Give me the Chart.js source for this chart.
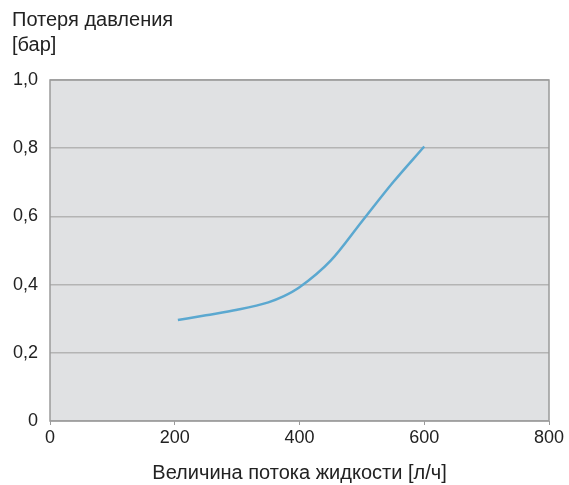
<!DOCTYPE html>
<html>
<head>
<meta charset="utf-8">
<script src="https://cdn.jsdelivr.net/npm/chart.js@4/dist/chart.umd.min.js"></script>
<style>
  html, body { margin: 0; padding: 0; background: #fff; }
  #wrap { width: 569px; height: 485px; }
</style>
</head>
<body>
<div id="wrap"><canvas id="myChart"></canvas></div>
<script>
"use strict"

// flow rate [l/h] and pressure loss [bar]
const flow = [205, 250, 300, 350, 375, 400, 450, 500, 550, 600];
const pressure = [0.296, 0.31, 0.326, 0.348, 0.366, 0.392, 0.47, 0.585, 0.70, 0.805];

const xTicks = [0, 200, 400, 600, 800];
const yTicks = [0, 0.2, 0.4, 0.6, 0.8, 1.0];

const yTitle = ["Потеря давления", "[бар]"];
const xTitle = "Величина потока жидкости [л/ч]";

Chart.defaults.font.family = "'Liberation Sans', Arial, sans-serif";
Chart.defaults.color = "#222";

// grey plot background and frame
const plotFrame = {
    id: "plotFrame",
    beforeDraw(chart) {
        const { ctx, chartArea: a } = chart;
        ctx.save();
        ctx.fillStyle = "#e0e1e3";
        ctx.fillRect(a.left, a.top, a.right - a.left, a.bottom - a.top);
        ctx.restore();
    },
    afterDatasetsDraw(chart) {
        const { ctx, chartArea: a } = chart;
        ctx.save();
        ctx.strokeStyle = "#9a9a9a";
        ctx.lineWidth = 1.5;
        ctx.strokeRect(a.left, a.top, a.right - a.left, a.bottom - a.top);
        ctx.restore();
    }
};

const ctx = document.getElementById("myChart").getContext("2d");

new Chart(ctx, {
    type: "line",
    data: {
        datasets: [{
            data: flow.map((f, i) => ({ x: f, y: pressure[i] })),
            borderColor: "#5ba8d0",
            borderWidth: 2.5,
            pointRadius: 0,
            cubicInterpolationMode: "monotone",
            fill: false
        }]
    },
    options: {
        responsive: true,
        maintainAspectRatio: false,
        animation: false,
        layout: { padding: { left: 12, right: 20, top: 0, bottom: 0 } },
        scales: {
            x: {
                type: "linear",
                min: 0,
                max: 800,
                afterBuildTicks: (s) => { s.ticks = xTicks.map(v => ({ value: v })); },
                afterFit: (s) => { s.height = 64; },
                grid: {
                    drawOnChartArea: false,
                    drawTicks: true,
                    tickLength: 4,
                    color: "#9a9a9a"
                },
                border: { display: false },
                ticks: {
                    font: { size: 18 },
                    padding: 2,
                    maxRotation: 0,
                    callback: (v) => String(v)
                },
                title: {
                    display: true,
                    text: xTitle,
                    font: { size: 20 },
                    padding: { top: 0, bottom: 0 }
                }
            },
            y: {
                type: "linear",
                min: 0,
                max: 1,
                afterBuildTicks: (s) => { s.ticks = yTicks.map(v => ({ value: v })); },
                afterFit: (s) => { s.width = 38; },
                grid: {
                    drawTicks: false,
                    color: "#b4b4b4",
                    lineWidth: 1.5
                },
                border: { display: false },
                ticks: {
                    font: { size: 18 },
                    padding: 12,
                    callback: (v) => v === 0 ? "0" : v.toFixed(1).replace(".", ",")
                }
            }
        },
        plugins: {
            legend: { display: false },
            tooltip: { enabled: false },
            title: {
                display: true,
                text: yTitle,
                align: "start",
                font: { size: 20, weight: "normal", lineHeight: 1.25 },
                color: "#222",
                padding: { top: 8, bottom: 22 }
            }
        }
    },
    plugins: [plotFrame]
});
</script>
</body>
</html>
